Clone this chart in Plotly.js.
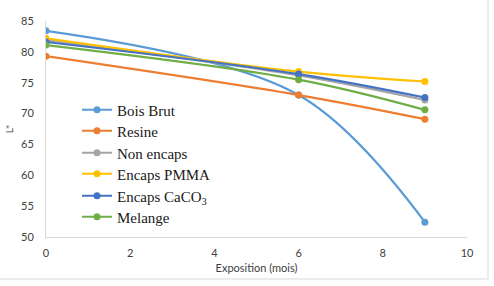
<!DOCTYPE html>
<html>
<head>
<meta charset="utf-8">
<script src="https://cdn.plot.ly/plotly-3.0.1.min.js"></script>
<style>
  html, body { margin: 0; padding: 0; background: #ffffff; }
  #chart { width: 494px; height: 286px; }
</style>
</head>
<body>
<div id="chart"></div>
<script>
// Exposure time (months)
const months = [0, 6, 9];

// L* values for each treatment
const boisBrut    = [83.4, 73.0, 52.4];
const resine      = [79.3, 73.0, 69.1];
const nonEncaps   = [81.9, 76.2, 72.2];
const encapsPMMA  = [82.2, 76.8, 75.2];
const encapsCaCO3 = [81.6, 76.4, 72.6];
const melange     = [81.1, 75.5, 70.6];

const seriesNames = ['Bois Brut', 'Resine', 'Non encaps', 'Encaps PMMA', 'Encaps CaCO<sub>3</sub>', 'Melange'];
const seriesValues = [boisBrut, resine, nonEncaps, encapsPMMA, encapsCaCO3, melange];
const seriesColors = ['#5b9bd5', '#ed7d31', '#a5a5a5', '#ffc000', '#4472c4', '#70ad47'];

const xTicks = [0, 2, 4, 6, 8, 10];
const yTicks = [50, 55, 60, 65, 70, 75, 80, 85];

// Plot area in pixels
const L = 46, R = 467, T = 21, B = 237;
const pw = R - L, ph = B - T;

// Each series gets its own one-item legend so the rows can sit closer together
const legendRowsPx = [110, 131, 153, 174, 196, 217];
const legendIds = seriesNames.map((_, i) => (i === 0 ? 'legend' : 'legend' + (i + 1)));

const traces = seriesNames.map((name, i) => ({
  x: months,
  y: seriesValues[i],
  name: name,
  type: 'scatter',
  mode: 'lines+markers',
  legend: legendIds[i],
  line: { color: seriesColors[i], width: 2.2, shape: 'spline', smoothing: 1 },
  marker: { color: seriesColors[i], size: 7 }
}));

const layout = {
  width: 494,
  height: 286,
  margin: { l: L, r: 494 - R, t: T, b: 286 - B, pad: 0 },
  paper_bgcolor: '#ffffff',
  plot_bgcolor: '#ffffff',
  font: { family: 'Lato, "Open Sans", sans-serif', size: 11, color: '#595959' },
  showlegend: true,
  xaxis: {
    range: [0, 10],
    tickvals: xTicks,
    ticktext: xTicks.map(String),
    showgrid: false,
    zeroline: false,
    showline: true,
    linecolor: '#d9d9d9',
    linewidth: 1,
    ticks: '',
    ticklabelstandoff: 6,
    tickfont: { size: 11, color: '#404040' },
    title: { text: 'Exposition (mois)', font: { size: 11, color: '#404040' }, standoff: 6 }
  },
  yaxis: {
    range: [50, 85],
    tickvals: yTicks,
    ticktext: yTicks.map(String),
    showgrid: false,
    zeroline: false,
    showline: true,
    linecolor: '#d9d9d9',
    linewidth: 1,
    ticks: '',
    ticklabelstandoff: 9,
    tickfont: { size: 11, color: '#404040' },
    title: { text: 'L*', font: { size: 10, color: '#404040' }, standoff: 5 }
  },
  shapes: [
    {
      type: 'rect', xref: 'paper', yref: 'paper',
      x0: (-1 - L) / pw, x1: (488 - L) / pw,
      y0: (B - 279) / ph, y1: (B + 2) / ph,
      line: { color: '#d9d9d9', width: 1 },
      fillcolor: 'rgba(0,0,0,0)',
      layer: 'below'
    }
  ]
};

legendIds.forEach((id, i) => {
  layout[id] = {
    x: (77 - L) / pw,
    y: 1 - (legendRowsPx[i] - T) / ph,
    xanchor: 'left',
    yanchor: 'middle',
    bgcolor: 'rgba(0,0,0,0)',
    borderwidth: 0,
    font: { family: '"Liberation Serif", "Times New Roman", serif', size: 15, color: '#1a1a1a' },
    itemwidth: 30
  };
});

Plotly.newPlot('chart', traces, layout, { displayModeBar: false, staticPlot: true });
</script>
</body>
</html>
